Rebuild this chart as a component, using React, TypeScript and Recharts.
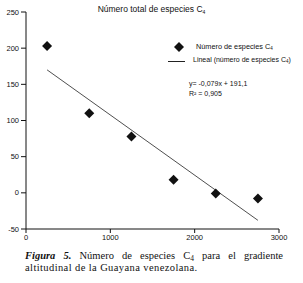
import { ScatterChart, Scatter, XAxis, YAxis } from "recharts";

// altitude (m) vs. number of C4 species
const altitudes = [250, 750, 1250, 1750, 2250, 2750];
const speciesCounts = [203, 110, 78, 18, -1, -8];

// linear trend as drawn in the figure (endpoints)
const trendAltitudes = [250, 2750];
const trendValues = [170, -38];

const xTicks = [0, 1000, 2000, 3000];
const yTicks = [-50, 0, 50, 100, 150, 200, 250];

const points = altitudes.map((x, i) => ({ x, y: speciesCounts[i] }));
const trend = trendAltitudes.map((x, i) => ({ x, y: trendValues[i] }));

const FONT = "'Liberation Sans', Arial, sans-serif";
const SERIF = "'Liberation Serif', 'Times New Roman', serif";

// eslint-disable-next-line @typescript-eslint/no-explicit-any
const Diamond = (props: any) => {
  const { cx, cy } = props;
  if (cx == null || cy == null) return null;
  const r = 5;
  return (
    <polygon
      points={`${cx},${cy - r} ${cx + r},${cy} ${cx},${cy + r} ${cx - r},${cy}`}
      fill="#111"
    />
  );
};

const NoDot = () => null;

// small lowered "4" without a separate sub box
const Sub = ({ size }: { size: number }) => (
  <span style={{ fontSize: size, position: "relative", top: size * 0.3 }}>4</span>
);

export default function App() {
  return (
    <div
      style={{
        position: "absolute",
        left: 0,
        top: 0,
        width: 303,
        height: 283,
        background: "#fff",
        fontFamily: FONT,
        color: "#111",
      }}
    >
      <ScatterChart
        width={303}
        height={245}
        margin={{ top: 12, right: 24, bottom: 0, left: 0 }}
      >
        <XAxis
          type="number"
          dataKey="x"
          domain={[0, 3000]}
          ticks={xTicks}
          axisLine={{ stroke: "#111" }}
          tickLine={{ stroke: "#111" }}
          tickSize={4}
          tick={{ fill: "#111", fontSize: 7.5, fontFamily: FONT }}
          height={16}
        />
        <YAxis
          type="number"
          dataKey="y"
          domain={[-50, 250]}
          ticks={yTicks}
          axisLine={{ stroke: "#111" }}
          tickLine={{ stroke: "#111" }}
          tickSize={5}
          tick={{ fill: "#111", fontSize: 7.5, fontFamily: FONT }}
          width={26}
        />
        <Scatter
          data={trend}
          line={{ stroke: "#222", strokeWidth: 0.8 }}
          lineType="joint"
          shape={NoDot}
          isAnimationActive={false}
        />
        <Scatter data={points} shape={Diamond} isAnimationActive={false} />
      </ScatterChart>

      <div
        style={{
          position: "absolute",
          left: 0,
          width: 303,
          top: 4,
          textAlign: "center",
          fontSize: 8.5,
        }}
      >
        Número total de especies C<Sub size={5} />
      </div>

      <svg
        width={10}
        height={10}
        style={{ position: "absolute", left: 174, top: 42, display: "block" }}
      >
        <polygon points="5,0 10,5 5,10 0,5" fill="#111" />
      </svg>
      <div style={{ position: "absolute", left: 196, top: 42, fontSize: 7.3, whiteSpace: "nowrap" }}>
        Número de especies C<Sub size={4.5} />
      </div>
      <div
        style={{
          position: "absolute",
          left: 168,
          top: 61,
          width: 17,
          borderTop: "1px solid #222",
        }}
      />
      <div style={{ position: "absolute", left: 193, top: 56, fontSize: 7, whiteSpace: "nowrap" }}>
        Lineal (número de especies C<Sub size={4.5} />)
      </div>
      <div style={{ position: "absolute", left: 189, top: 79, fontSize: 7, lineHeight: "10px", whiteSpace: "nowrap" }}>
        y= -0,079x + 191,1
        <br />
        R² = 0,905
      </div>

      {/* caption, two lines: first justified, second left */}
      <div
        style={{
          position: "absolute",
          left: 25,
          top: 250,
          width: 258,
          fontFamily: SERIF,
          fontSize: 10.5,
          lineHeight: "12px",
          whiteSpace: "nowrap",
          textAlign: "justify",
          textAlignLast: "justify",
        }}
      >
        <b>
          <i>Figura 5.</i>
        </b>{" "}
        Número de especies C<Sub size={7.5} /> para el gradiente
      </div>
      <div
        style={{
          position: "absolute",
          left: 25,
          top: 262,
          fontFamily: SERIF,
          fontSize: 10.5,
          lineHeight: "12px",
          letterSpacing: 0.4,
          whiteSpace: "nowrap",
        }}
      >
        altitudinal de la Guayana venezolana.
      </div>
    </div>
  );
}
